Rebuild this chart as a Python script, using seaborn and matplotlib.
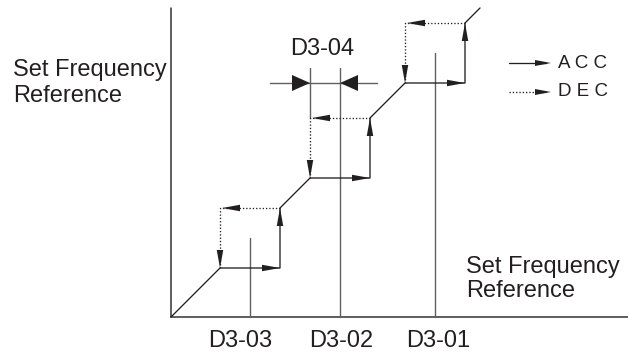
import matplotlib
matplotlib.use("Agg")
import matplotlib.pyplot as plt
import seaborn as sns
import pandas as pd

# 数据（坐标单位约等于像素，原点在坐标轴交点）
jump_names = ["D3-03", "D3-02", "D3-01"]
jump_center = [79, 169, 264]          # 跳跃频率中心
jump_low = [49, 139, 234]             # 跳跃带下限
jump_high = [109, 199, 294]           # 跳跃带上限
ref_top = [79, 249, 264]              # 参考竖线的高度
bracket_y = 234                       # D3-04 宽度标注的位置
bracket_x = [99, 206]
line_end = 309
axis_x_end = 457
axis_y_end = 309

sns.set_theme(style="white")
plt.rcParams["font.family"] = ["Liberation Sans", "DejaVu Sans"]

ink = "#231f20"
grey = "#606062"
dots = (0, (1, 1.5))

fig = plt.figure(figsize=(6.28, 3.59), dpi=100)
ax = fig.add_axes([0, 0, 1, 1])
ax.set_xlim(-171, 457)
ax.set_ylim(-42, 317)
ax.axis("off")


def head(tip, d, length=18, width=6.5, color=ink):
    tx, ty = tip
    dx, dy = d
    bx, by = tx - dx * length, ty - dy * length
    px, py = -dy * width / 2, dx * width / 2
    ax.fill([tx, bx + px, bx - px], [ty, by + py, by - py], color=color, lw=0, zorder=5)


# 坐标轴
ax.plot([0, axis_x_end], [0, 0], color="#333333", lw=1.1)
ax.plot([0, 0], [0, axis_y_end], color="#333333", lw=1.1)

# 参考竖线
for c, top in zip(jump_center, ref_top):
    ax.plot([c, c], [0, top], color=grey, lw=1.0, zorder=2)
ax.plot([jump_low[1], jump_low[1]], [jump_high[1], ref_top[1]], color=grey, lw=1.0)

# 加速路径（实线）
px, py = [0], [0]
for lo, hi in zip(jump_low, jump_high):
    px += [lo, hi, hi]
    py += [lo, lo, hi]
px.append(line_end)
py.append(line_end)
acc = pd.DataFrame({"x": px, "y": py})
sns.lineplot(data=acc, x="x", y="y", sort=False, estimator=None, color=ink, lw=0.95, ax=ax)

# 减速路径（点线）
for lo, hi in zip(jump_low, jump_high):
    dec = pd.DataFrame({"x": [hi, lo, lo], "y": [hi, hi, lo]})
    sns.lineplot(data=dec, x="x", y="y", sort=False, estimator=None, color=ink, lw=0.95,
                 linestyle=dots, ax=ax)
    head((hi, lo), (1, 0))
    head((hi, hi), (0, 1))
    head((lo + 2, hi), (-1, 0))
    head((lo, lo), (0, -1))

# D3-04 宽度标注
ax.plot(bracket_x, [bracket_y, bracket_y], color=grey, lw=1.0)
head((jump_low[1], bracket_y), (1, 0), width=16)
head((jump_center[1], bracket_y), (-1, 0), width=16)
ax.text(151, 268, "D3-04", fontsize=17, color=ink, ha="center", va="center")

# 文字
ax.text(-158, 234, "Set Frequency\nReference", fontsize=17, color=ink, ha="left", va="center",
        linespacing=1.2)
ax.text(295, 38, "Set Frequency\nReference", fontsize=17, color=ink, ha="left", va="center",
        linespacing=1.15)
for name, c, off in zip(jump_names, jump_center, [-10, 1, 3]):
    ax.text(c + off, -24, name, fontsize=17, color=ink, ha="center", va="center")

# 图例
ax.plot([338, 375], [254, 254], color=ink, lw=0.95)
head((380, 254), (1, 0), length=16, width=6)
ax.text(387, 254, "A C C", fontsize=13.5, color=ink, ha="left", va="center")
ax.plot([338, 375], [225, 225], color=ink, lw=0.95, linestyle=dots)
head((380, 225), (1, 0), length=16, width=6)
ax.text(387, 225, "D E C", fontsize=13.5, color=ink, ha="left", va="center")

fig.savefig("out.png", dpi=100)
